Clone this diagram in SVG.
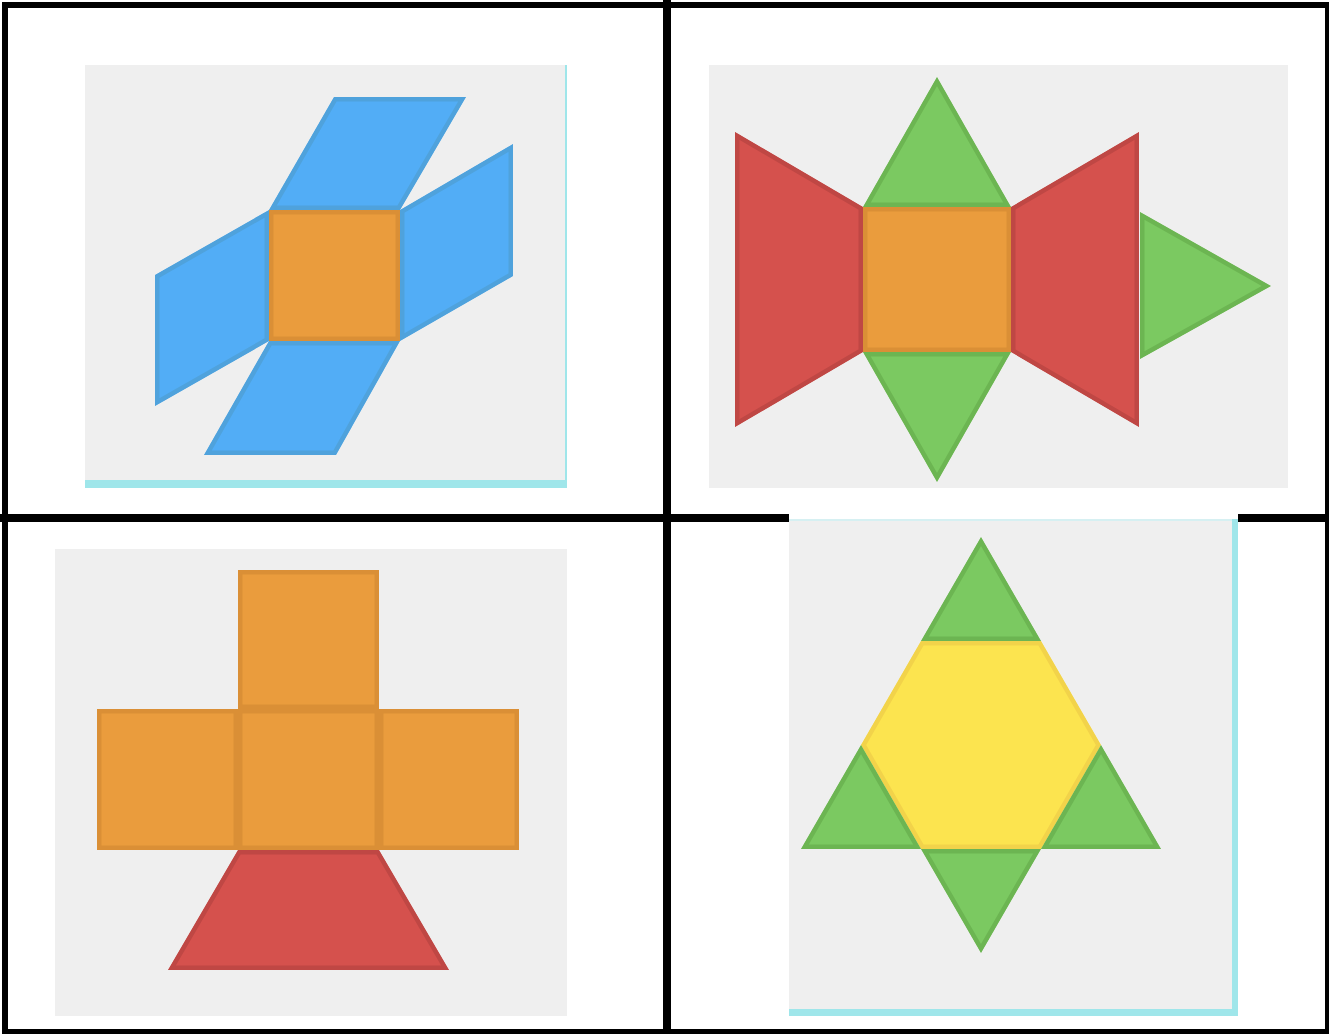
<svg xmlns="http://www.w3.org/2000/svg" xmlns:xlink="http://www.w3.org/1999/xlink" width="1329" height="1034" viewBox="0 0 1329 1034">
<style>
.bg{fill:#efefef}
.cy{fill:#9fe6ea}
.blue{fill:#52adf6;stroke:#4fa2dc;stroke-width:9}
.orange{fill:#ea9c3d;stroke:#da8f36;stroke-width:9}
.red{fill:#d5514d;stroke:#bf4744;stroke-width:9}
.green{fill:#7bc961;stroke:#6cb552;stroke-width:9}
.yellow{fill:#fce44f;stroke:#f2d34a;stroke-width:9}
.line{stroke:#000;fill:none}
</style>
<defs>
<polygon id="a1" points="334,97 466,97 400,210 269,210"/>
<polygon id="a2" points="400,210 513,144 513,276 400,341"/>
<polygon id="a3" points="155,275 269,210 269,341 155,406"/>
<polygon id="a4" points="269,341 400,341 336,455 204,455"/>
<polygon id="a5" points="269,210 400,210 400,341 269,341"/>
<polygon id="b1" points="863,207 1011,207 1011,352 863,352"/>
<polygon id="b2" points="937,77 1011,207 863,207"/>
<polygon id="b3" points="863,352 1011,352 937,482"/>
<polygon id="b4" points="735,132 863,207 863,352 735,427"/>
<polygon id="b5" points="1011,207 1139,132 1139,427 1011,352"/>
<polygon id="b6" points="1140,212 1271,286 1140,359"/>
<polygon id="c1" points="238,570 379,570 379,709 238,709"/>
<polygon id="c2" points="97,709 238,709 238,850 97,850"/>
<polygon id="c3" points="238,709 379,709 379,850 238,850"/>
<polygon id="c4" points="379,709 519,709 519,850 379,850"/>
<polygon id="c5" points="238,850 379,850 449,970 168,970"/>
<polygon id="d1" points="981,537 1041,641 921,641"/>
<polygon id="d2" points="921,641 1041,641 1101,745 1041,849 921,849 861,745"/>
<polygon id="d3" points="861,745 921,849 801,849"/>
<polygon id="d4" points="1101,745 1161,849 1041,849"/>
<polygon id="d5" points="921,849 1041,849 981,953"/>
<clipPath id="ka1"><use xlink:href="#a1"/></clipPath>
<clipPath id="ka2"><use xlink:href="#a2"/></clipPath>
<clipPath id="ka3"><use xlink:href="#a3"/></clipPath>
<clipPath id="ka4"><use xlink:href="#a4"/></clipPath>
<clipPath id="ka5"><use xlink:href="#a5"/></clipPath>
<clipPath id="kb1"><use xlink:href="#b1"/></clipPath>
<clipPath id="kb2"><use xlink:href="#b2"/></clipPath>
<clipPath id="kb3"><use xlink:href="#b3"/></clipPath>
<clipPath id="kb4"><use xlink:href="#b4"/></clipPath>
<clipPath id="kb5"><use xlink:href="#b5"/></clipPath>
<clipPath id="kb6"><use xlink:href="#b6"/></clipPath>
<clipPath id="kc1"><use xlink:href="#c1"/></clipPath>
<clipPath id="kc2"><use xlink:href="#c2"/></clipPath>
<clipPath id="kc3"><use xlink:href="#c3"/></clipPath>
<clipPath id="kc4"><use xlink:href="#c4"/></clipPath>
<clipPath id="kc5"><use xlink:href="#c5"/></clipPath>
<clipPath id="kd1"><use xlink:href="#d1"/></clipPath>
<clipPath id="kd2"><use xlink:href="#d2"/></clipPath>
<clipPath id="kd3"><use xlink:href="#d3"/></clipPath>
<clipPath id="kd4"><use xlink:href="#d4"/></clipPath>
<clipPath id="kd5"><use xlink:href="#d5"/></clipPath>
</defs>
<rect width="1329" height="1034" fill="#fff"/>
<g id="grid">
<rect class="line" x="5" y="5" width="1323" height="1027" stroke-width="6"/>
<line class="line" x1="667" y1="0" x2="667" y2="1034" stroke-width="8"/>
<line class="line" x1="0" y1="518" x2="1329" y2="518" stroke-width="8"/>
</g>
<g id="panel1">
<rect class="bg" x="85" y="65" width="482" height="423"/>
<rect class="cy" x="85" y="480" width="482" height="8"/>
<rect class="cy" x="565" y="65" width="2" height="423"/>
<use xlink:href="#a1" class="blue" clip-path="url(#ka1)"/>
<use xlink:href="#a2" class="blue" clip-path="url(#ka2)"/>
<use xlink:href="#a3" class="blue" clip-path="url(#ka3)"/>
<use xlink:href="#a4" class="blue" clip-path="url(#ka4)"/>
<use xlink:href="#a5" class="orange" clip-path="url(#ka5)"/>
</g>
<g id="panel2">
<rect class="bg" x="709" y="65" width="579" height="423"/>
<use xlink:href="#b1" class="orange" clip-path="url(#kb1)"/>
<use xlink:href="#b2" class="green" clip-path="url(#kb2)"/>
<use xlink:href="#b3" class="green" clip-path="url(#kb3)"/>
<use xlink:href="#b4" class="red" clip-path="url(#kb4)"/>
<use xlink:href="#b5" class="red" clip-path="url(#kb5)"/>
<use xlink:href="#b6" class="green" clip-path="url(#kb6)"/>
</g>
<g id="panel3">
<rect class="bg" x="55" y="549" width="512" height="467"/>
<use xlink:href="#c1" class="orange" clip-path="url(#kc1)"/>
<use xlink:href="#c2" class="orange" clip-path="url(#kc2)"/>
<use xlink:href="#c3" class="orange" clip-path="url(#kc3)"/>
<use xlink:href="#c4" class="orange" clip-path="url(#kc4)"/>
<use xlink:href="#c5" class="red" clip-path="url(#kc5)"/>
</g>
<g id="panel4">
<rect x="789" y="514" width="449" height="5" fill="#fff"/>
<rect class="bg" x="789" y="519" width="449" height="497"/>
<rect x="789" y="519" width="449" height="2" fill="#d6f0f2"/>
<rect class="cy" x="1232" y="519" width="6" height="497"/>
<rect class="cy" x="789" y="1009" width="449" height="7"/>
<use xlink:href="#d2" class="yellow" clip-path="url(#kd2)"/>
<use xlink:href="#d1" class="green" clip-path="url(#kd1)"/>
<use xlink:href="#d3" class="green" clip-path="url(#kd3)"/>
<use xlink:href="#d4" class="green" clip-path="url(#kd4)"/>
<use xlink:href="#d5" class="green" clip-path="url(#kd5)"/>
</g>
</svg>
